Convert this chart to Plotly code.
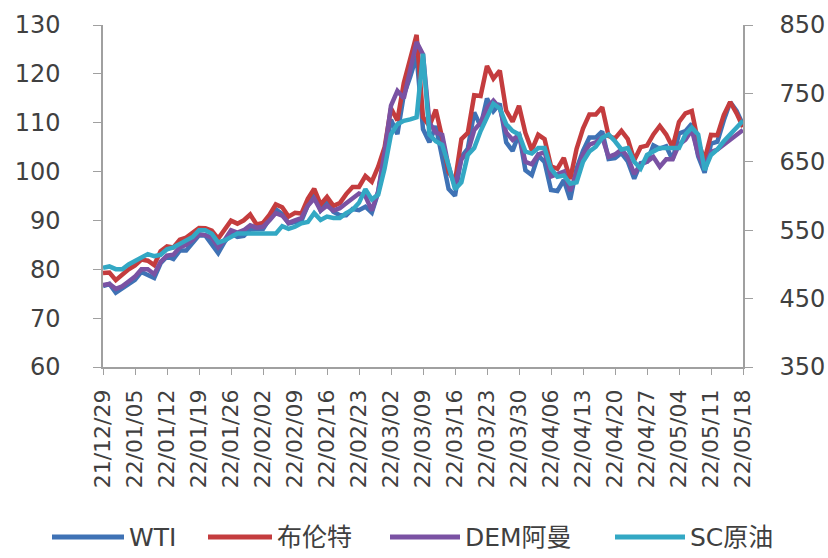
import pandas as pd
import plotly.graph_objects as go

# ---------------- data ----------------
dates = pd.bdate_range("2021-12-29", "2022-05-18")
categories = [d.strftime("%y/%m/%d") for d in dates]
tick_labels = categories[::5]

series_names = ["WTI", "布伦特", "DEM阿曼", "SC原油"]

wti = [76.56, 76.99, 75.21, 76.08, 76.99, 77.85, 79.46, 78.90, 78.23, 81.22,
       82.64, 82.12, 83.82, 83.82, 85.43, 86.96, 86.90, 85.14, 83.31, 85.60,
       87.35, 86.61, 86.82, 88.15, 88.20, 88.26, 90.27, 92.31, 91.32, 89.36,
       89.66, 89.88, 93.10, 95.46, 92.07, 93.66, 91.76, 91.07, 91.07, 92.35,
       92.10, 92.81, 91.59, 95.72, 103.41, 110.60, 107.67, 115.68, 119.40, 123.70,
       108.70, 106.02, 109.33, 103.01, 96.44, 95.04, 102.98, 104.70, 112.12, 109.27,
       114.93, 112.34, 113.90, 105.96, 104.24, 107.82, 100.28, 99.27, 103.28, 101.96,
       96.23, 96.03, 98.26, 94.29, 100.60, 104.25, 106.95, 106.95, 108.21, 102.56,
       102.75, 103.79, 102.07, 98.54, 101.70, 102.02, 105.36, 104.69, 105.17, 102.41,
       107.81, 108.26, 109.77, 103.09, 99.76, 105.71, 106.13, 110.49, 114.20, 112.40,
       109.59]

brent = [79.23, 79.32, 77.78, 78.98, 80.00, 80.80, 81.99, 81.75, 80.87, 83.72,
         84.67, 84.47, 86.06, 86.48, 87.51, 88.44, 88.38, 87.89, 86.27, 88.20,
         89.96, 89.34, 90.03, 91.21, 89.16, 89.47, 91.11, 93.27, 92.69, 90.78,
         91.55, 91.41, 94.44, 96.48, 93.28, 94.81, 92.97, 93.54, 95.39, 96.84,
         96.84, 99.08, 97.93, 100.99, 104.97, 112.93, 110.46, 118.11, 123.21, 127.98,
         111.14, 109.33, 112.67, 106.90, 99.91, 98.02, 106.64, 107.93, 115.62, 115.48,
         121.60, 119.03, 120.65, 112.48, 110.23, 113.45, 107.91, 104.39, 107.53, 106.64,
         101.07, 100.58, 102.78, 98.48, 104.64, 108.78, 111.70, 111.70, 113.16, 107.25,
         106.80, 108.33, 106.65, 102.32, 104.99, 105.32, 107.59, 109.34, 107.58, 104.97,
         110.14, 111.90, 112.39, 105.94, 102.46, 107.51, 107.45, 111.55, 114.24, 111.93,
         109.11]

oman = [76.8, 77.0, 76.0, 76.5, 77.5, 78.5, 80.0, 80.0, 79.0, 81.5,
        82.8, 83.0, 84.5, 85.0, 86.0, 87.2, 87.0, 86.5, 84.5, 86.0,
        88.0, 87.5, 88.0, 89.0, 88.5, 88.7, 90.0, 91.5, 91.0, 89.5,
        90.0, 90.5, 93.0, 94.5, 92.0, 93.0, 92.0, 92.5, 93.5, 94.5,
        95.5, 95.0, 92.0, 96.0, 104.0, 113.5, 116.5, 115.0, 121.0, 126.5,
        124.0, 110.0, 108.0, 107.5, 101.0, 97.0, 102.5, 104.0, 108.5, 110.0,
        113.0, 114.5, 113.0, 108.0, 106.5, 107.5, 102.0, 101.5, 103.5, 104.0,
        99.0, 99.5, 100.0, 96.0, 99.5, 103.5, 105.5, 106.0, 107.0, 103.0,
        103.5, 104.5, 103.0, 99.5, 101.5, 102.0, 103.0, 101.0, 102.5, 102.5,
        105.5, 106.5, 108.5, 103.5, 101.0, 104.0, 104.5, 105.5, 106.5, 107.5,
        108.5]

sc = [495, 497, 493, 493, 500, 505, 510, 515, 512, 514,
      522, 525, 530, 535, 540, 550, 550, 545, 532, 535,
      540, 545, 545, 545, 545, 545, 545, 545, 556, 552,
      555, 560, 562, 575, 565, 570, 568, 568, 575, 580,
      590, 610, 595, 602, 640, 690, 705, 710, 712, 715,
      808, 690, 680, 675, 645, 610, 620, 660, 670, 695,
      715, 735, 728, 705, 695, 690, 665, 662, 670, 670,
      640, 628, 630, 618, 620, 650, 665, 672, 685, 690,
      680, 668, 670, 650, 640, 660, 665, 670, 670, 670,
      670, 690, 700, 690, 638, 660, 668, 680, 690, 700,
      710]

colors = ["#3f72b5", "#c43c3e", "#7a52a3", "#33a8c4"]

# ---------------- figure ----------------
W, H = 828, 558
L, R, T, B = 103, 85, 25, 191
pw, ph = W - L - R, H - T - B

fig = go.Figure()
for name, ys, col, ax in zip(series_names, [wti, brent, oman, sc], colors,
                             ["y", "y", "y", "y2"]):
    fig.add_trace(go.Scatter(x=categories, y=ys, name=name, mode="lines",
                             line=dict(color=col, width=4.5), yaxis=ax,
                             showlegend=False))

axis_color = "#a0a0a0"
txt_color = "#404040"
tick_font = dict(family="DejaVu Sans, sans-serif", size=24, color=txt_color)

fig.update_layout(
    width=W, height=H,
    margin=dict(l=L, r=R, t=T, b=B, autoexpand=False),
    paper_bgcolor="white", plot_bgcolor="white",
    xaxis=dict(type="category", range=[0, len(categories) - 1], automargin=False,
               tickmode="array", tickvals=tick_labels, ticktext=tick_labels,
               tickangle=-90, showline=True, linecolor=axis_color, linewidth=1.5,
               ticks="outside", ticklen=6, tickcolor=axis_color,
               showgrid=False, zeroline=False, ticklabelstandoff=6,
               tickfont=dict(family="DejaVu Sans, sans-serif", size=22, color=txt_color)),
    yaxis=dict(range=[60, 130], tick0=60, dtick=10, showline=True, linecolor=axis_color,
               linewidth=1.5, ticks="outside", ticklen=8, tickcolor=axis_color,
               showgrid=False, zeroline=False, tickfont=tick_font, automargin=False,
               ticklabelstandoff=28),
    yaxis2=dict(range=[350, 850], tick0=350, dtick=100, overlaying="y", side="right",
                showline=True, linecolor=axis_color, linewidth=1.5, automargin=False,
                ticks="outside", ticklen=8, tickcolor=axis_color,
                showgrid=False, zeroline=False, tickfont=tick_font,
                ticklabelstandoff=22),
)

# custom legend (long line keys like the original)
legend_y_px = 537
legend_items = [(52, 124, 127), (208, 272, 275), (390, 460, 463), (615, 685, 688)]
def px_x(px):
    return (px - L) / pw
def px_y(py):
    return (H - B - py) / ph
for (x0, x1, xt), name, col in zip(legend_items, series_names, colors):
    fig.add_shape(type="line", xref="paper", yref="paper",
                  x0=px_x(x0), x1=px_x(x1), y0=px_y(legend_y_px), y1=px_y(legend_y_px),
                  line=dict(color=col, width=5))
    fig.add_annotation(xref="paper", yref="paper", x=px_x(xt), y=px_y(legend_y_px),
                       text=name, showarrow=False, xanchor="left", yanchor="middle",
                       font=dict(family="DejaVu Sans, Noto Sans CJK SC, sans-serif",
                                 size=25, color=txt_color))

fig.write_html("out.html")
